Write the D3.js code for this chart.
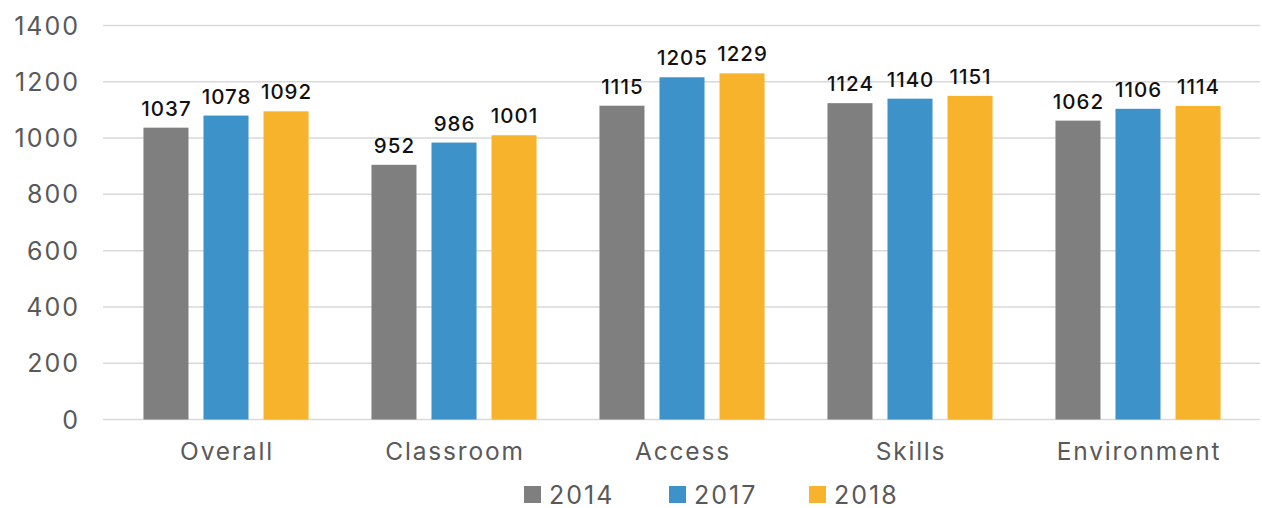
<!DOCTYPE html>
<html>
<head>
<meta charset="utf-8">
<script src="https://cdn.jsdelivr.net/npm/d3@7"></script>
<style>
	body { margin: 0; background: #fff; }
	svg { display: block; font-family: Inter, "Open Sans", sans-serif; }
	.grid line { stroke: #d9d9d9; stroke-width: 1.5; }
	.tick-label { fill: #595959; font-size: 25px; letter-spacing: 2px; }
	.cat-label { fill: #595959; font-size: 24.5px; letter-spacing: 1.8px; }
	.val-label { fill: #111; font-size: 20.5px; font-weight: 500; letter-spacing: 1px; }
	.legend text { fill: #595959; font-size: 25px; letter-spacing: 2px; }
</style>
</head>
<body>
<svg width="1262" height="508"></svg>
<script>
var categories = ["Overall", "Classroom", "Access", "Skills", "Environment"];
var years = ["2014", "2017", "2018"];

// printed labels
var labels2014 = [1037, 952, 1115, 1124, 1062];
var labels2017 = [1078, 986, 1205, 1140, 1106];
var labels2018 = [1092, 1001, 1229, 1151, 1114];

// bar heights as drawn (a couple don't agree with their labels)
var bars2014 = [1037, 905, 1115, 1124, 1062];
var bars2017 = [1080, 984, 1216, 1140, 1104];
var bars2018 = [1095, 1010, 1230, 1150, 1114];

var yTicks = [0, 200, 400, 600, 800, 1000, 1200, 1400];
var colors = {"2014": "#7f7f7f", "2017": "#3d92ca", "2018": "#f6b32b"};

var svg = d3.select("svg"),
	width = +svg.attr("width"),
	height = +svg.attr("height");

var x0 = d3.scaleBand()
	.domain(categories)
	.range([112, 1252])
	.paddingInner(0.276)
	.paddingOuter(0.138);

var x1 = d3.scaleBand()
	.domain(years)
	.range([0, x0.bandwidth()])
	.paddingInner(0.25);

var y = d3.scaleLinear()
	.domain([0, 1400])
	.range([419.5, 25.5]);

var barsBy = {"2014": bars2014, "2017": bars2017, "2018": bars2018};
var labelsBy = {"2014": labels2014, "2017": labels2017, "2018": labels2018};

var rows = [];
categories.forEach(function(c, i) {
	years.forEach(function(yr) {
		rows.push({cat: c, year: yr, value: barsBy[yr][i], label: labelsBy[yr][i]});
	});
});

// grid
svg.append("g")
	.attr("class", "grid")
	.selectAll("line")
	.data(yTicks).enter()
	.append("line")
	.attr("x1", 103)
	.attr("x2", 1260)
	.attr("y1", function(d) { return y(d); })
	.attr("y2", function(d) { return y(d); });

svg.append("g")
	.selectAll("text")
	.data(yTicks).enter()
	.append("text")
	.attr("class", "tick-label")
	.attr("x", 80)
	.attr("y", function(d) { return y(d); })
	.attr("dy", "0.36em")
	.attr("text-anchor", "end")
	.text(function(d) { return d; });

var bars = svg.append("g");

bars.selectAll("rect")
	.data(rows).enter()
	.append("rect")
	.attr("x", function(d) { return x0(d.cat) + x1(d.year); })
	.attr("y", function(d) { return y(d.value); })
	.attr("width", x1.bandwidth())
	.attr("height", function(d) { return y(0) - y(d.value); })
	.attr("fill", function(d) { return colors[d.year]; });

bars.selectAll("text")
	.data(rows).enter()
	.append("text")
	.attr("class", "val-label")
	.attr("x", function(d) { return x0(d.cat) + x1(d.year) + x1.bandwidth() / 2 + 0.5; })
	.attr("y", function(d) { return y(d.value) - 12; })
	.attr("text-anchor", "middle")
	.text(function(d) { return d.label; });

// category labels
svg.append("g")
	.selectAll("text")
	.data(categories).enter()
	.append("text")
	.attr("class", "cat-label")
	.attr("x", function(d) { return x0(d) + x0.bandwidth() / 2 + 1; })
	.attr("y", 460)
	.attr("text-anchor", "middle")
	.text(function(d) { return d; });

// legend
var legendX = d3.scaleOrdinal()
	.domain(years)
	.range([524, 669, 809]);

var legend = svg.append("g")
	.attr("class", "legend")
	.selectAll("g")
	.data(years).enter()
	.append("g")
	.attr("transform", function(d) { return "translate(" + legendX(d) + ",486)"; });

legend.append("rect")
	.attr("width", 17)
	.attr("height", 17)
	.attr("fill", function(d) { return colors[d]; });

legend.append("text")
	.attr("x", 25)
	.attr("y", 8.5)
	.attr("dy", "0.36em")
	.text(function(d) { return d; });
</script>
</body>
</html>
